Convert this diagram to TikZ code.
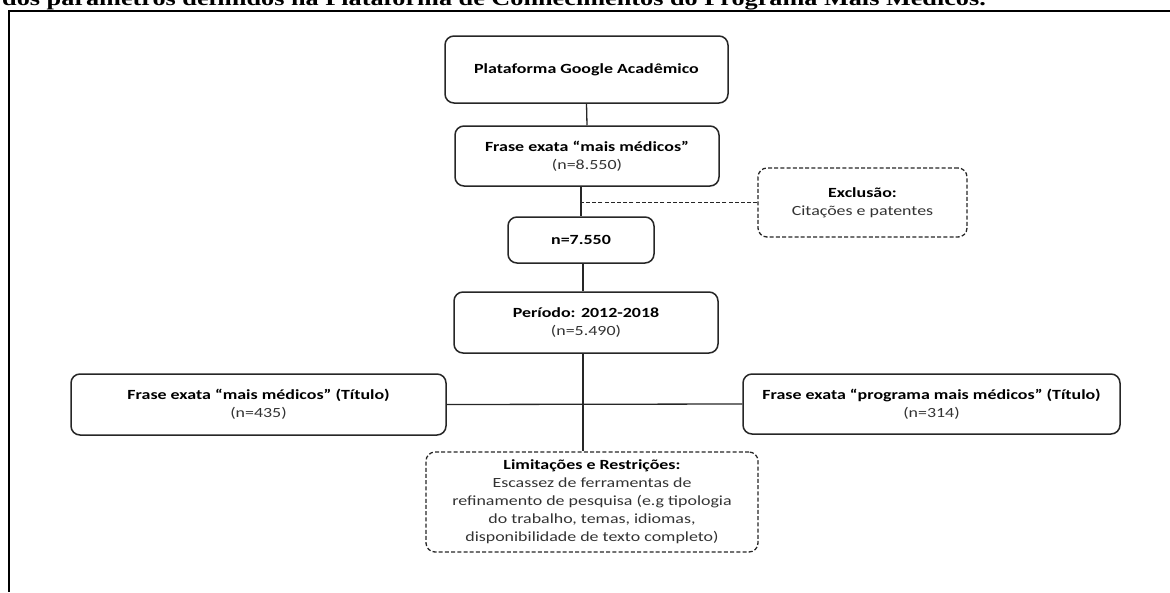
\documentclass[tikz,border=0pt]{standalone}
\usepackage{fontspec}
\setmainfont{Carlito}[FakeStretch=1.28]
\newfontfamily\fonteTitulo{Liberation Serif}[FakeStretch=1.28]

\begin{document}
\begin{tikzpicture}[x=1pt, y=-1pt,
      caixa/.style={draw=black!85, line width=1.5pt, rounded corners=9pt, align=center,
        inner sep=0pt, text=black!80, font=\fontsize{14}{18}\selectfont},
      caixaTrac/.style={caixa, line width=1.3pt, dash pattern=on 4pt off 2.2pt},
      ligacao/.style={draw=black!85, line width=1.3pt},
      ligTrac/.style={ligacao, line width=1.1pt, dash pattern=on 4pt off 2.2pt}
    ]
    \clip (0,0) rectangle (1170,592);

    % --- moldura e legenda ---
    \draw[line width=2pt] (1170,10.5) -- (8.5,10.5) -- (8.5,592);
    \node[anchor=base west, inner sep=0pt, font=\fonteTitulo\bfseries\fontsize{20.5}{24}\selectfont] (legenda) at (2,5)
      {dos parâmetros definidos na Plataforma de Conhecimentos do Programa Mais Médicos.};

    % --- fluxo central ---
    \node[caixa, minimum width=283pt, minimum height=67pt] (plat) at (586.5,69.5)
      {\textcolor{black}{\textbf{Plataforma Google Acadêmico}}};
    \node[caixa, minimum width=264pt, minimum height=60pt] (frase) at (587,156)
      {\textcolor{black}{\textbf{Frase exata “mais médicos”}}\\(n=8.550)};
    \node[caixa, minimum width=146pt, minimum height=46pt] (n7550) at (581,240)
      {\textcolor{black}{\textbf{n=7.550}}};
    \node[caixa, minimum width=264pt, minimum height=61pt] (periodo) at (586,322.5)
      {\textcolor{black}{\textbf{Período: 2012-2018}}\\(n=5.490)};

    % --- exclusao ---
    \node[caixaTrac, minimum width=209pt, minimum height=69pt] (excl) at (862.5,202.5)
      {\textcolor{black}{\textbf{Exclusão:}}\\Citações e patentes};

    % --- titulos ---
    \node[caixa, minimum width=375pt, minimum height=61pt] (titulo1) at (258.5,404.5)
      {\textcolor{black}{\textbf{Frase exata “mais médicos” (Título)}}\\(n=435)};
    \node[caixa, minimum width=377pt, minimum height=60pt] (titulo2) at (931.5,404)
      {\textcolor{black}{\textbf{Frase exata “programa mais médicos” (Título)}}\\(n=314)};

    % --- limitacoes ---
    \node[caixaTrac, minimum width=332pt, minimum height=100pt] (limit) at (592,502)
      {\textcolor{black}{\textbf{Limitações e Restrições:}}\\Escassez de ferramentas de\\
       refinamento de pesquisa (e.g tipologia\\do trabalho, temas, idiomas,\\
       disponibilidade de texto completo)};

    % --- ligacoes ---
    \draw[ligacao] (plat.south) -- (frase.north);
    \draw[ligacao] (n7550.north |- frase.south) -- (n7550.north);
    \draw[ligTrac] (excl.west) -- (excl.west -| n7550.north);
    \draw[ligacao] ([xshift=2pt]n7550.south) -- ([xshift=2pt]n7550.south |- periodo.north);
    \draw[ligacao] ([xshift=-3pt]periodo.south) -- ([xshift=-3pt]periodo.south |- limit.north);
    \draw[ligacao] (titulo1.east) -- (titulo2.west);
  \end{tikzpicture}
\end{document}
